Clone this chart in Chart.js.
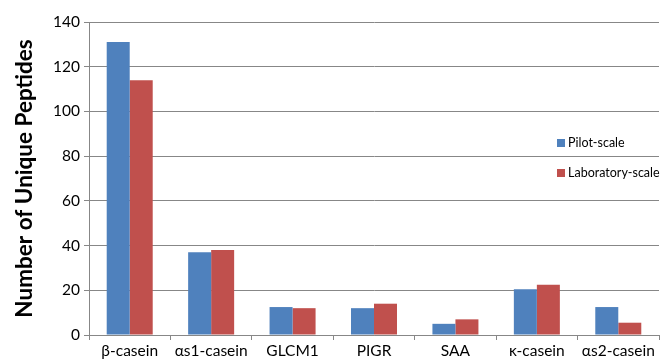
<!DOCTYPE html>
<html>
<head>
<meta charset="utf-8">
<script src="https://cdn.jsdelivr.net/npm/chart.js@4/dist/chart.umd.min.js"></script>
<style>
  body { margin: 0; background: #fff; }
  #wrap { width: 664px; height: 363px; }
</style>
</head>
<body>
<div id="wrap"><canvas id="peptides"></canvas></div>
<script>
const proteins = ['β-casein', 'αs1-casein', 'GLCM1', 'PIGR', 'SAA', 'κ-casein', 'αs2-casein'];
const pilotScale = [131, 37, 12.5, 12, 5, 20.5, 12.5];
const labScale = [114, 38, 12, 14, 7, 22.5, 5.5];
const yTicks = [0, 20, 40, 60, 80, 100, 120, 140];

const font = "Lato, 'Open Sans', sans-serif";

// legend sits inside the plot, on the right
const insideLegend = {
  id: 'insideLegend',
  afterDraw(chart) {
    const ctx = chart.ctx;
    ctx.save();
    ctx.font = '12.5px ' + font;
    ctx.textBaseline = 'middle';
    chart.data.datasets.forEach((ds, i) => {
      const y = 143 + i * 30;
      ctx.fillStyle = ds.backgroundColor;
      ctx.fillRect(557, y - 4, 8, 8);
      ctx.fillStyle = '#000';
      ctx.fillText(ds.label, 568, y);
    });
    ctx.restore();
  },
};

new Chart(document.getElementById('peptides'), {
  type: 'bar',
  data: {
    labels: proteins,
    datasets: [
      { label: 'Pilot-scale', data: pilotScale, backgroundColor: '#4F81BD' },
      { label: 'Laboratory-scale', data: labScale, backgroundColor: '#C0504D' },
    ],
  },
  options: {
    responsive: true,
    maintainAspectRatio: false,
    animation: false,
    layout: { padding: { top: 22, right: 5, left: 0, bottom: 0 } },
    datasets: { bar: { barPercentage: 1, categoryPercentage: 0.565 } },
    plugins: { legend: { display: false }, tooltip: { enabled: false } },
    scales: {
      x: {
        grid: { offset: true, drawOnChartArea: false, color: '#878787', tickLength: 5 },
        border: { color: '#878787' },
        ticks: { color: '#000', font: { family: font, size: 15.5 }, padding: 2 },
        afterFit(scale) { scale.height = 28; },
      },
      y: {
        min: 0,
        max: 140,
        afterBuildTicks(scale) { scale.ticks = yTicks.map((v) => ({ value: v })); },
        grid: { color: '#878787', tickLength: 5 },
        border: { color: '#878787' },
        ticks: { color: '#000', font: { family: font, size: 15.5 }, padding: 4 },
        title: {
          display: true,
          text: 'Number of Unique Peptides',
          color: '#000',
          font: { family: font, size: 22.5, weight: 'bold' },
          padding: { top: 11, bottom: 0 },
        },
        afterFit(scale) { scale.width = 89; },
      },
    },
  },
  plugins: [insideLegend],
});
</script>
</body>
</html>
